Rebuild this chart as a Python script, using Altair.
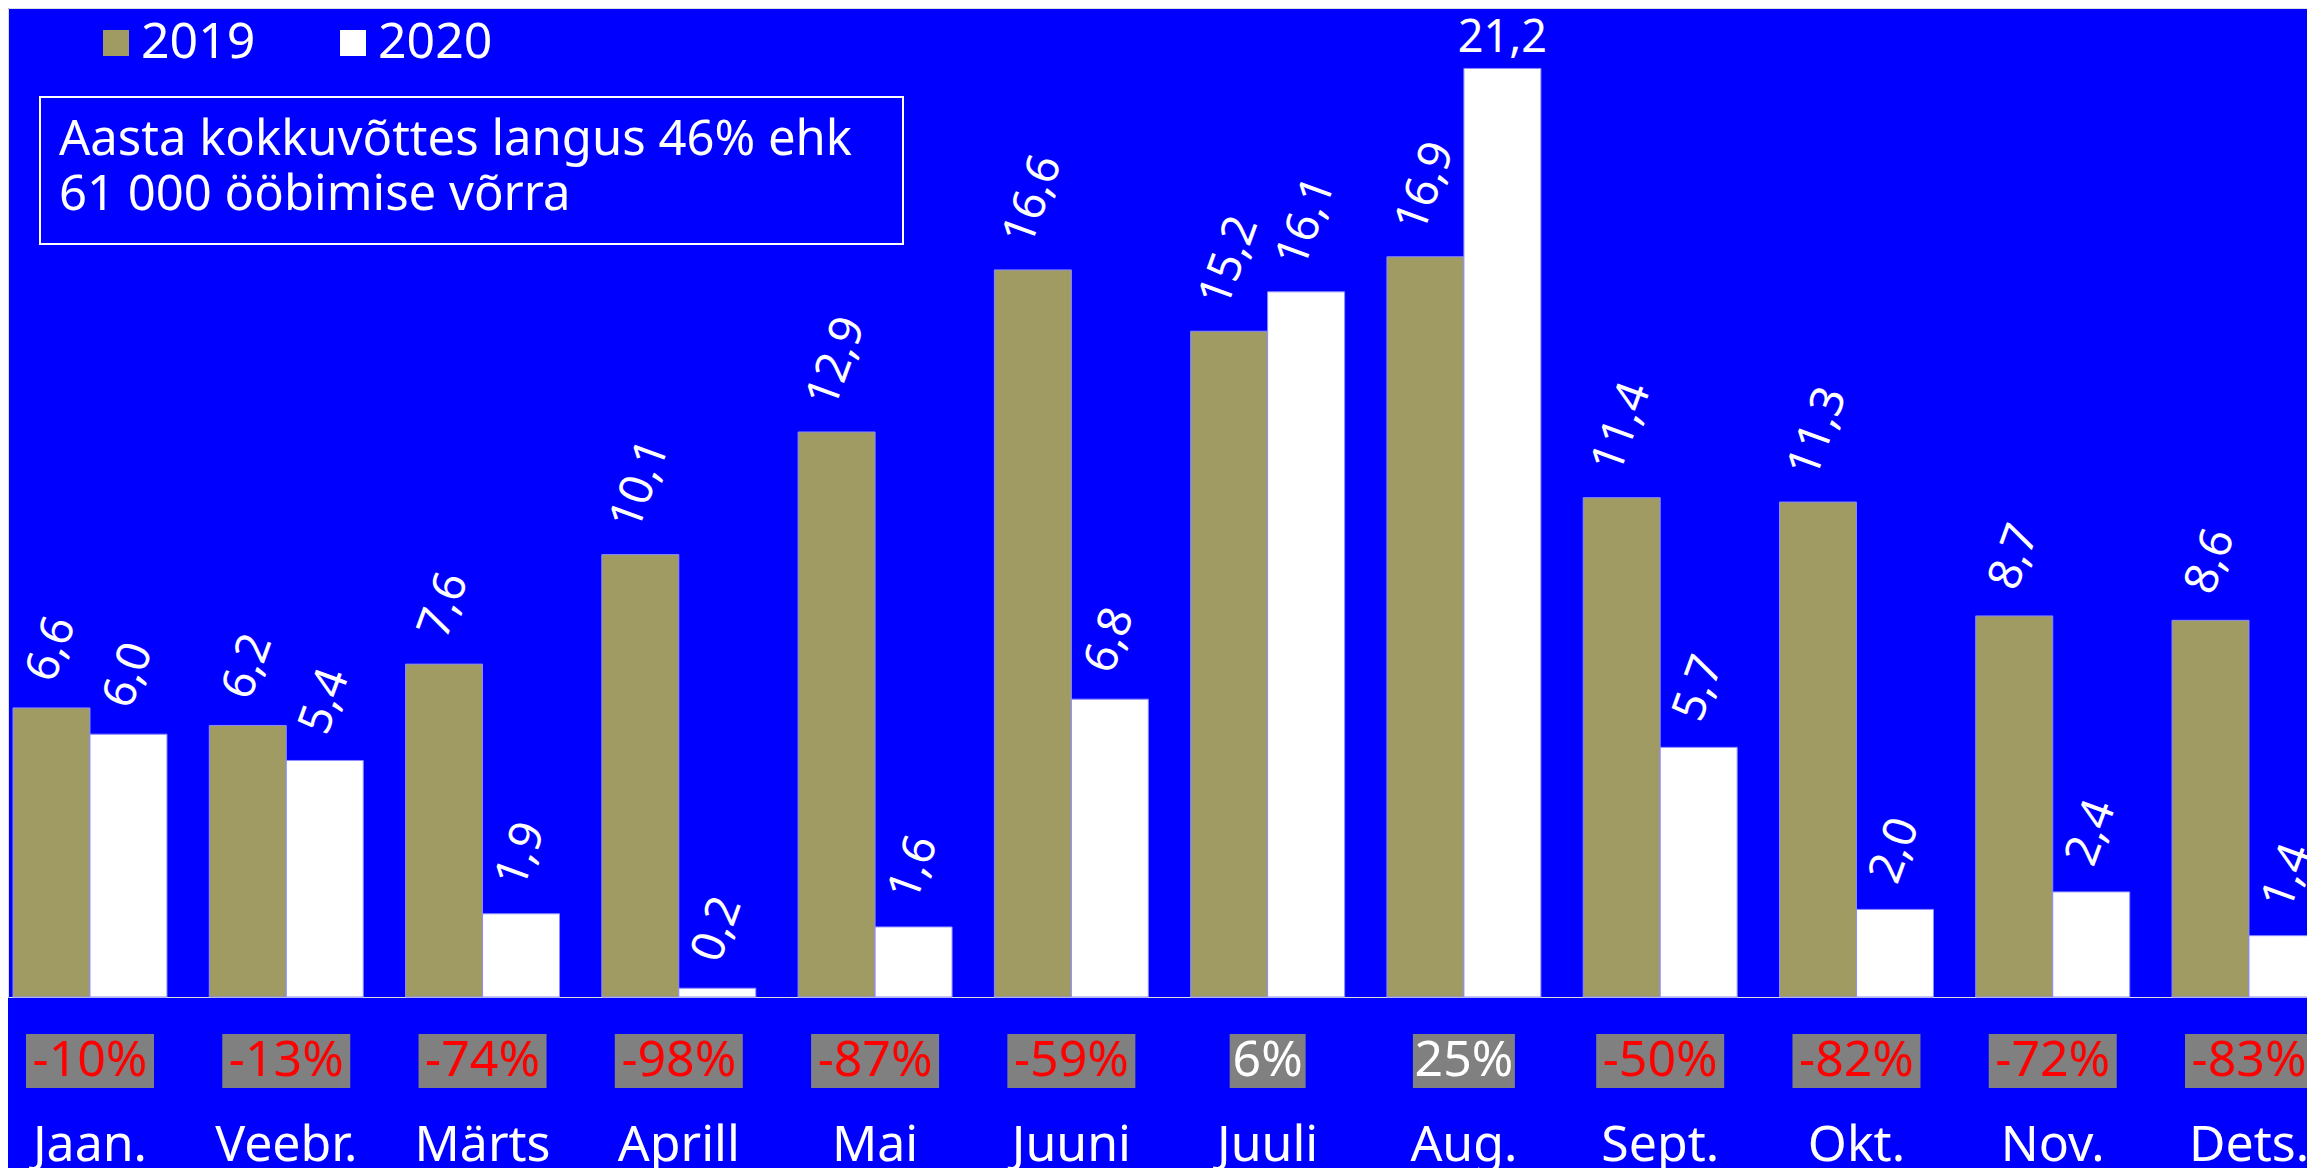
import altair as alt
import pandas as pd

months = ["Jaan.", "Veebr.", "Märts", "Aprill", "Mai", "Juuni", "Juuli",
          "Aug.", "Sept.", "Okt.", "Nov.", "Dets."]
years = ["2019", "2020"]
v2019 = [6.6, 6.2, 7.6, 10.1, 12.9, 16.6, 15.2, 16.9, 11.4, 11.3, 8.7, 8.6]
v2020 = [6.0, 5.4, 1.9, 0.2, 1.6, 6.8, 16.1, 21.2, 5.7, 2.0, 2.4, 1.4]
pct = [-10, -13, -74, -98, -87, -59, 6, 25, -50, -82, -72, -83]
note_lines = ["Aasta kokkuvõttes langus 46% ehk", "61 000 ööbimise võrra"]

FONT = "Noto Sans"
BG = "#0000ff"
C2019 = "#a09b63"
C2020 = "#ffffff"

PX_PER_UNIT = 43.8
W, H = 2299, 989
YMAX = H / PX_PER_UNIT

bars_df = pd.DataFrame({
    "month": months * 2,
    "year": [years[0]] * len(months) + [years[1]] * len(months),
    "v": v2019 + v2020,
})
pct_df = pd.DataFrame({"month": months, "pct": pct})
note_df = pd.DataFrame({"k": [0]})

x_scale = alt.Scale(domain=months, range=[0, 2323],
                    paddingInner=0.2155, paddingOuter=0.0255)
x_axis = alt.Axis(title=None, domain=False, ticks=False, grid=False,
                  labelFontSize=50, labelFont=FONT, labelColor="white",
                  labelPadding=163, labelBaseline="alphabetic", labelAngle=0,
                  labelOverlap=False, labelFlush=False, labelBound=False)
x_enc = alt.X("month:N", scale=x_scale, axis=x_axis)
off_enc = alt.XOffset("year:N", scale=alt.Scale(domain=years, paddingInner=0, paddingOuter=0))
y_scale = alt.Scale(domain=[0, YMAX], nice=False, zero=True)

bars = alt.Chart(bars_df).mark_bar(stroke="#8c8cff", strokeWidth=1).encode(
    x=x_enc,
    xOffset=off_enc,
    y=alt.Y("v:Q", scale=y_scale, axis=None),
    color=alt.Color("year:N", scale=alt.Scale(domain=years, range=[C2019, C2020]),
                    legend=alt.Legend(title=None, orient="none", legendX=83, legendY=10,
                                      direction="horizontal", symbolType="square",
                                      symbolSize=676, symbolStrokeWidth=0,
                                      labelFontSize=50, labelFont=FONT,
                                      labelColor="white", labelOffset=0,
                                      columnPadding=72, padding=0, symbolOpacity=1)),
)

lab_base = alt.Chart(bars_df).transform_calculate(
    lab="replace(format(datum.v, '.1f'), '.', ',')"
).transform_joinaggregate(vmax="max(v)")

rot_labels = lab_base.transform_filter("datum.v < datum.vmax").transform_calculate(
    ylab=f"datum.v + (26 + 11 * length(datum.lab)) / {PX_PER_UNIT}"
).mark_text(angle=290, align="center", baseline="middle", font=FONT,
            fontSize=46, color="white").encode(
    x=x_enc, xOffset=off_enc,
    y=alt.Y("ylab:Q", scale=y_scale, axis=None),
    text="lab:N",
)

max_label = lab_base.transform_filter("datum.v == datum.vmax").mark_text(
    align="center", baseline="alphabetic", dy=-16, font=FONT, fontSize=45, color="white"
).encode(
    x=x_enc, xOffset=off_enc,
    y=alt.Y("v:Q", scale=y_scale, axis=None),
    text="lab:N",
)

pct_base = alt.Chart(pct_df).transform_calculate(
    ptxt="datum.pct + '%'",
).transform_calculate(
    bw="24 + 26 * length(datum.ptxt)"
)

pct_box = pct_base.mark_bar(color="#808080").encode(
    x=x_enc,
    y=alt.value(1026), y2=alt.value(1080),
    size=alt.Size("bw:Q", scale=None, legend=None),
)

pct_text = pct_base.mark_text(font=FONT, fontSize=50, baseline="middle").encode(
    x=x_enc,
    y=alt.value(1053),
    text="ptxt:N",
    color=alt.condition("datum.pct < 0", alt.value("#ff0000"), alt.value("#ffffff")),
)

note_box = alt.Chart(note_df).mark_rect(fill="transparent", stroke="white", strokeWidth=2).encode(
    x=alt.value(32), x2=alt.value(895), y=alt.value(89), y2=alt.value(236)
)
note_text = alt.Chart(note_df).mark_text(
    text=note_lines, align="left", baseline="alphabetic", font=FONT,
    fontSize=49, lineHeight=55, color="white"
).encode(x=alt.value(51), y=alt.value(147))

chart = alt.layer(bars, rot_labels, max_label, pct_box, pct_text, note_box, note_text).properties(
    width=W, height=H,
    autosize=alt.AutoSizeParams(type="none"),
    padding={"left": 0, "right": 0, "top": 0, "bottom": 171},
    background=BG,
).configure_view(strokeOpacity=0).configure(font=FONT)

chart.save("out.html", embed_options={"renderer": "svg", "actions": False})
